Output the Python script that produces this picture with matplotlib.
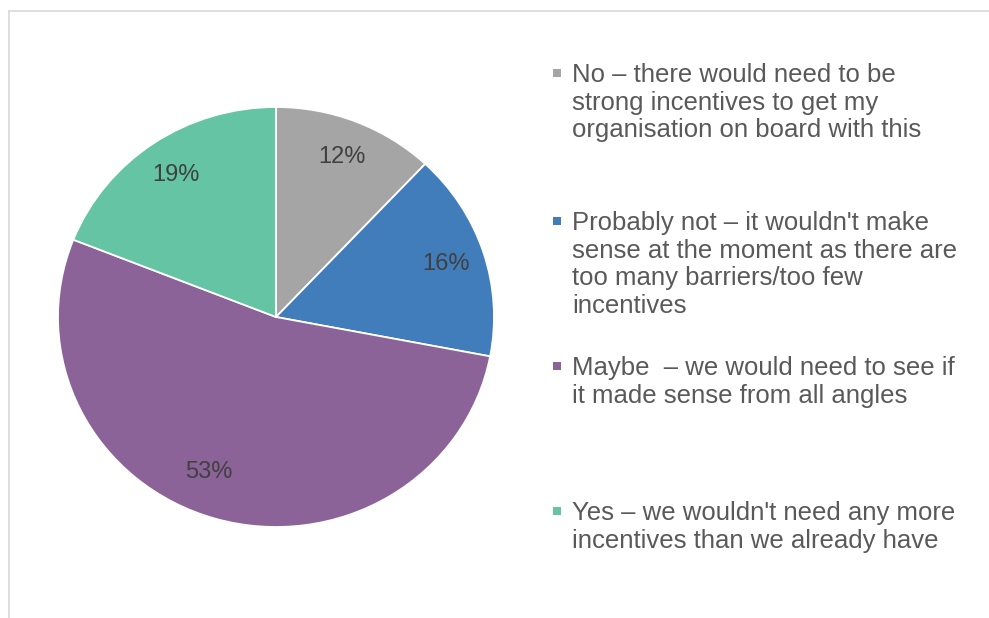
import matplotlib.pyplot as plt
from matplotlib.lines import Line2D
from matplotlib.patches import Rectangle

plt.rcParams['font.family'] = ['Liberation Sans', 'DejaVu Sans']

# survey answers, clockwise from 12 o'clock
labels = [
    "No \u2013 there would need to be\nstrong incentives to get my\norganisation on board with this",
    "Probably not \u2013 it wouldn't make\nsense at the moment as there are\ntoo many barriers/too few\nincentives",
    "Maybe  \u2013 we would need to see if\nit made sense from all angles",
    "Yes \u2013 we wouldn't need any more\nincentives than we already have",
]
shares = [12, 16, 53, 19]
colors = ['#A5A5A5', '#417DBA', '#8C6399', '#64C4A3']

W, H = 989, 618
fig = plt.figure(figsize=(W / 100, H / 100), dpi=100)

# chart area border (top and left edges visible)
fig.add_artist(Line2D([8.5 / W, 1.0], [1 - 10.5 / H, 1 - 10.5 / H], color='#D9D9D9', lw=1.2))
fig.add_artist(Line2D([8.5 / W, 8.5 / W], [0.0, 1 - 10.5 / H], color='#D9D9D9', lw=1.2))

# pie area in pixels
px0, px1, py0, py1 = 58, 494, 107, 527
ax = fig.add_axes([px0 / W, 1 - py1 / H, (px1 - px0) / W, (py1 - py0) / H])
wedges, texts, autotexts = ax.pie(
    shares, colors=colors, startangle=90, counterclock=False,
    autopct=lambda p: f'{p:.0f}%', pctdistance=0.82,
    wedgeprops=dict(edgecolor='white', linewidth=1.3),
    textprops=dict(fontsize=17, color='#404040'),
)
ax.set_aspect('auto')
ax.set_xlim(-1, 1)
ax.set_ylim(-1, 1)
ax.axis('off')

# nudge the big slice label like the original layout
autotexts[2].set_position((-0.31, -0.74))

# legend drawn by hand: evenly spaced entries, wrapped labels
baselines = [82, 230, 375, 520]
line_step = 27.7
tx = 572
for lab, col, yb in zip(labels, colors, baselines):
    fig.add_artist(Rectangle((553 / W, 1 - (yb - 5) / H), 8 / W, 8 / H,
                             transform=fig.transFigure, facecolor=col, edgecolor='none'))
    for k, line in enumerate(lab.split('\n')):
        fig.text(tx / W, 1 - (yb + k * line_step) / H, line, fontsize=18.5,
                 color='#595959', ha='left', va='baseline')

fig.savefig('out.png', dpi=100)
